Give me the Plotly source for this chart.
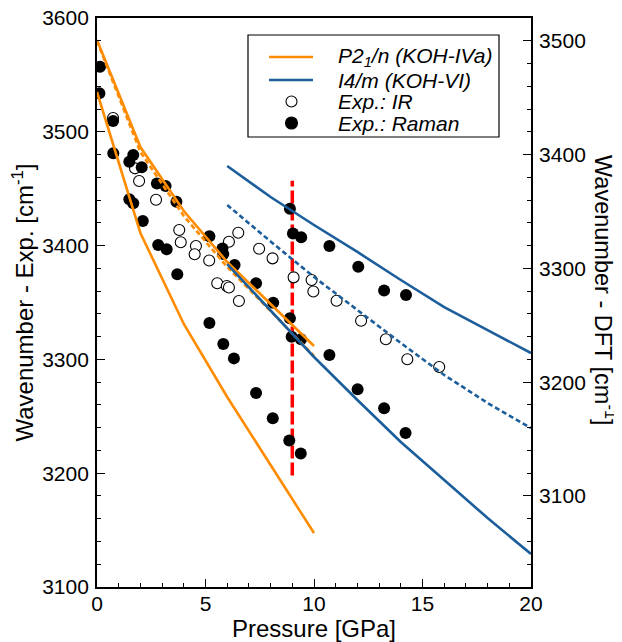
import plotly.graph_objects as go

# ---------------- data ----------------
# Experimental (left axis)
raman_p = [0.14, 0.11, 0.74, 0.75, 1.67, 1.49, 2.06, 2.76, 3.16, 3.66, 1.49, 1.67, 2.11, 2.82, 3.21, 3.70,
           5.18, 5.78, 5.82, 6.34, 5.18, 5.82, 6.31, 7.33, 8.12, 8.89, 8.97, 9.40, 7.33, 8.10, 8.86, 9.39,
           8.89, 9.03, 9.41, 10.71, 12.04, 13.23, 14.24, 10.71, 12.01, 13.23, 14.22]
raman_v = [3557.2, 3533.8, 3509.5, 3481.1, 3479.6, 3473.7, 3468.8, 3454.6, 3452.4, 3438.6, 3440.7, 3437.2,
           3421.6, 3400.5, 3396.7, 3374.8, 3408.2, 3397.4, 3392.6, 3382.9, 3332.0, 3313.5, 3300.9, 3366.9,
           3349.8, 3336.1, 3319.9, 3317.7, 3270.5, 3248.2, 3228.7, 3217.4, 3432.3, 3410.6, 3407.3, 3399.6,
           3381.5, 3360.5, 3356.6, 3303.9, 3273.7, 3257.0, 3235.3]
ir_p = [0.74, 1.75, 1.94, 2.72, 3.79, 3.86, 4.56, 4.50, 5.17, 5.54, 5.98, 6.08, 6.54, 6.08, 6.51, 7.47,
        8.09, 9.06, 9.89, 9.97, 11.04, 12.17, 13.31, 14.30, 15.77]
ir_v = [3512.1, 3467.9, 3456.8, 3440.3, 3413.7, 3402.9, 3399.6, 3392.4, 3386.9, 3366.9, 3364.5, 3363.2,
        3351.3, 3403.4, 3411.3, 3397.2, 3388.8, 3372.1, 3369.8, 3359.7, 3351.5, 3334.0, 3317.7, 3300.1, 3293.3]

# DFT (right axis)
p_orange = [0, 2, 4, 6, 8, 10]
orange_solid_hi = [3500.7, 3406.6, 3350.4, 3305.6, 3268.7, 3231.8]
orange_dash = [3499.8, 3402.2, 3346.0, 3301.2, 3262.5, 3223.0]
orange_solid_lo = [3455.0, 3331.1, 3251.1, 3187.0, 3127.2, 3067.4]
p_blue = [6, 8, 10, 12, 14, 16, 18, 20]
blue_solid_hi = [3390.0, 3362.7, 3338.1, 3314.4, 3289.8, 3266.0, 3245.8, 3225.6]
blue_dash = [3355.7, 3323.6, 3292.4, 3263.4, 3234.4, 3206.3, 3181.7, 3159.7]
blue_solid_lo = [3303.8, 3262.5, 3222.1, 3184.3, 3147.4, 3114.0, 3080.6, 3049.0]

# vertical transition marker (left axis)
trans_p = [9, 9]
trans_v = [3198, 3457]

# legend labels
legend_labels = ["<i>P2<sub>1</sub>/n (KOH-IVa)</i>", "<i>I4/m (KOH-VI)</i>",
                 "<i>Exp.: IR</i>", "<i>Exp.: Raman</i>"]

ORANGE = "#ff8c00"
BLUE = "#1b5e9b"
FONT = "Liberation Sans, Arial, sans-serif"

fig = go.Figure()

def line(x, y, color, dash=None, name=None):
    fig.add_trace(go.Scatter(
        x=x, y=y, mode="lines", yaxis="y2", name=name, showlegend=False,
        line=dict(color=color, width=2.6, dash=dash if dash else "solid"),
        hoverinfo="skip"))

line(p_orange, orange_solid_hi, ORANGE, name=legend_labels[0])
line(p_orange, orange_dash, ORANGE, dash="5px,3px")
line(p_orange, orange_solid_lo, ORANGE)
line(p_blue, blue_solid_hi, BLUE, name=legend_labels[1])
line(p_blue, blue_dash, BLUE, dash="5px,3px")
line(p_blue, blue_solid_lo, BLUE)

fig.add_trace(go.Scatter(x=trans_p, y=trans_v, mode="lines", showlegend=False,
                         line=dict(color="#ff0000", width=3.5, dash="13px,4px")))

fig.add_trace(go.Scatter(x=ir_p, y=ir_v, mode="markers", name=legend_labels[2], showlegend=False,
                         marker=dict(symbol="circle", size=11, color="white",
                                     line=dict(color="black", width=1.1))))
fig.add_trace(go.Scatter(x=raman_p, y=raman_v, mode="markers", name=legend_labels[3], showlegend=False,
                         marker=dict(symbol="circle", size=12, color="black",
                                     line=dict(color="black", width=0))))

axis_common = dict(showline=True, linecolor="black", linewidth=1.8, ticks="inside",
                   tickcolor="black", tickwidth=1.3, showgrid=False, zeroline=False,
                   automargin=False, ticklabeloverflow="allow",
                   tickfont=dict(family=FONT, size=21, color="black"))

# page body has an 8px margin -> screen coords = figure coords + 8
OFF = 8
SCR_W, SCR_H = 622, 642
L, T, W_PLOT, H_PLOT = 97.0, 18.0, 434.0, 569.0       # plot area in screen pixels
px = lambda x: (x - L) / W_PLOT
py = lambda y: 1 - (y - T) / H_PLOT

rows = [57, 80, 101.5, 123]
shapes = [dict(type="rect", xref="paper", yref="paper", x0=px(248), x1=px(499), y0=py(137), y1=py(35),
               line=dict(color="black", width=1.2), fillcolor="white", layer="above")]
annotations = []
for i, c in enumerate([ORANGE, BLUE]):
    shapes.append(dict(type="line", xref="paper", yref="paper", x0=px(269), x1=px(313),
                       y0=py(rows[i]), y1=py(rows[i]), line=dict(color=c, width=2.6), layer="above"))
for i, fill in enumerate(["white", "black"]):
    r = 5.5 if fill == "white" else 6
    shapes.append(dict(type="circle", xref="paper", yref="paper", xsizemode="pixel", ysizemode="pixel",
                       xanchor=px(291.5), yanchor=py(rows[2 + i]), x0=-r, x1=r, y0=-r, y1=r,
                       fillcolor=fill, line=dict(color="black", width=1.1), layer="above"))
for i, lab in enumerate(legend_labels):
    annotations.append(dict(text=lab, xref="paper", yref="paper", x=px(336), y=py(rows[i]),
                            xanchor="left", yanchor="middle", showarrow=False,
                            font=dict(family=FONT, size=21, color="black")))

annotations.append(dict(text="Wavenumber - DFT [cm<sup>-1</sup>]", textangle=90, xref="paper", yref="paper",
                        x=px(605), y=py(290), xanchor="center", yanchor="middle", showarrow=False,
                        font=dict(family=FONT, size=23.5, color="black")))

fig_w, fig_h = SCR_W - OFF, SCR_H - OFF
m_l, m_t = L - OFF, T - OFF
fig.update_layout(
    width=fig_w, height=fig_h,
    margin=dict(l=m_l, r=fig_w - m_l - W_PLOT, t=m_t, b=fig_h - m_t - H_PLOT, pad=0),
    paper_bgcolor="white", plot_bgcolor="white",
    font=dict(family=FONT, color="black"),
    showlegend=False,
    xaxis=dict(range=[0, 20], dtick=5, ticklen=8, mirror=True, ticklabelstandoff=-3,
               minor=dict(dtick=1, ticklen=4, ticks="inside", tickcolor="black"),
               title=dict(text="Pressure [GPa]", font=dict(family=FONT, size=24), standoff=4),
               **axis_common),
    yaxis=dict(range=[3100, 3600], dtick=100, ticklen=8, ticklabelstandoff=2,
               minor=dict(dtick=20, ticklen=4, ticks="inside", tickcolor="black"),
               title=dict(text="Wavenumber - Exp. [cm<sup>-1</sup>]", font=dict(family=FONT, size=24),
                          standoff=8),
               **axis_common),
    yaxis2=dict(range=[3020, 3520], dtick=100, ticklen=8, overlaying="y", side="right",
                ticklabelstandoff=2,
                minor=dict(dtick=20, ticklen=4, ticks="inside", tickcolor="black"),
                **axis_common),
    shapes=shapes,
    annotations=annotations,
)

fig.write_html("out.html")
